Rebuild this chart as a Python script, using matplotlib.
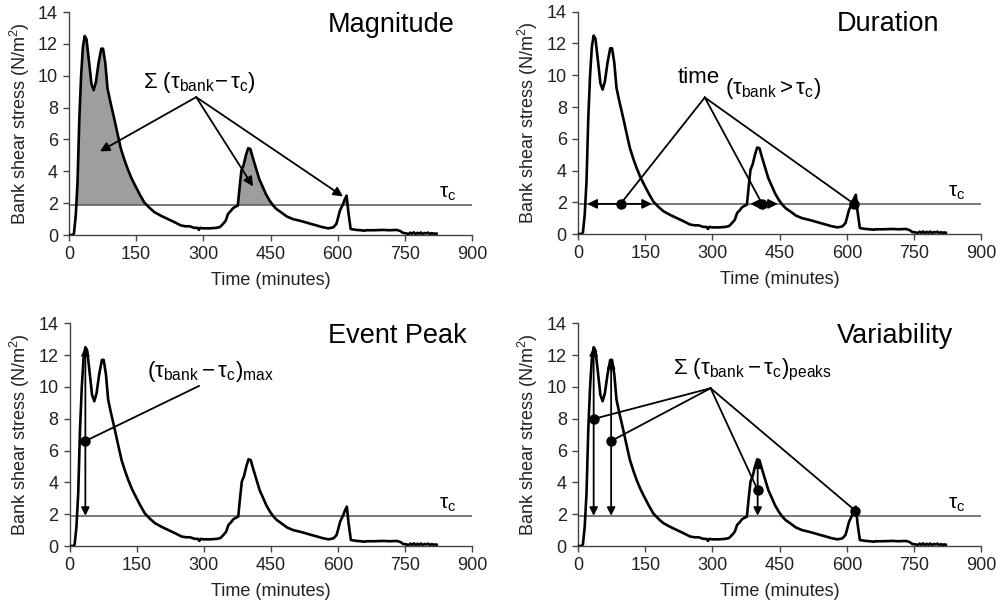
import numpy as np
import matplotlib
matplotlib.use("Agg")
import matplotlib.pyplot as plt

plt.rcParams["font.family"] = ["Liberation Sans", "DejaVu Sans"]
plt.rcParams["mathtext.fontset"] = "custom"
plt.rcParams["mathtext.rm"] = "Liberation Sans"
plt.rcParams["mathtext.it"] = "Liberation Sans"
plt.rcParams["mathtext.bf"] = "Liberation Sans:bold"

# hydrograph (minutes, N/m2)
time_min = [0, 8, 11, 15, 19, 23, 27, 31, 35, 39, 45, 50, 55, 60, 66, 72, 76,
            81, 86, 92, 101, 108, 116, 124, 131, 139, 146, 157, 168, 180, 191,
            206, 221, 236, 250, 260, 269, 280, 287, 290, 293, 300, 315, 329,
            337, 344, 350, 355, 361, 366, 372, 377, 381, 385, 390, 395, 400,
            405, 410, 418, 425, 433, 440, 448, 456, 463, 475, 486, 500, 515,
            523, 540, 553, 565, 579, 590, 597, 601, 605, 612, 616, 620, 624,
            629, 635, 642, 651, 661, 663, 680, 702, 716, 732, 740, 746, 754,
            758, 762, 766, 770, 774, 778, 782, 786, 790, 794, 798, 802, 806,
            810, 814, 818, 821]
stress = [0, 0, 0.1, 1.2, 3.3, 7.3, 10.0, 11.8, 12.5, 12.3, 10.8, 9.5, 9.1,
          9.6, 10.8, 11.7, 11.7, 10.8, 9.2, 8.4, 7.3, 6.4, 5.4, 4.7, 4.15,
          3.6, 3.2, 2.6, 2.05, 1.7, 1.43, 1.2, 1.0, 0.8, 0.6, 0.55, 0.55,
          0.45, 0.45, 0.32, 0.45, 0.42, 0.42, 0.45, 0.5, 0.7, 0.9, 1.32, 1.5,
          1.68, 1.78, 1.85, 3.0, 4.05, 4.4, 5.0, 5.45, 5.4, 4.9, 4.15, 3.5,
          3.0, 2.55, 2.16, 1.85, 1.64, 1.4, 1.17, 1.0, 0.9, 0.84, 0.7, 0.6,
          0.5, 0.42, 0.48, 0.69, 1.1, 1.53, 1.95, 2.25, 2.47, 1.4, 0.38, 0.35,
          0.32, 0.3, 0.27, 0.3, 0.3, 0.32, 0.3, 0.32, 0.25, 0.13, 0.1, 0.05,
          0.15, 0.07, 0.17, 0.06, 0.14, 0.08, 0.16, 0.05, 0.13, 0.1, 0.15,
          0.06, 0.12, 0.08, 0.1, 0.08]
tau_c = 1.9
peak_times = [35, 74, 401, 619]

x_ticks = [0, 150, 300, 450, 600, 750, 900]
y_ticks = [0, 2, 4, 6, 8, 10, 12, 14]
panel_titles = ["Magnitude", "Duration", "Event Peak", "Variability"]

t = np.array(time_min, dtype=float)
s = np.array(stress, dtype=float)
peak_vals = np.interp(peak_times, t, s)

fig = plt.figure(figsize=(9.96, 6.04), dpi=100)
positions = [
    [0.0693, 0.6109, 0.4046, 0.3691],
    [0.5803, 0.6125, 0.4049, 0.3681],
    [0.0700, 0.0960, 0.4039, 0.3687],
    [0.5803, 0.0960, 0.4049, 0.3687],
]
axes = [fig.add_axes(p) for p in positions]

LABEL_FS = 16
dot = dict(marker="o", color="k", markersize=6.5, zorder=5, linestyle="none")

for ax, title in zip(axes, panel_titles):
    ax.plot(t, s, color="k", lw=1.9, zorder=3)
    ax.axhline(tau_c, color="#555555", lw=1.1, zorder=2)
    ax.set_xlim(0, 900)
    ax.set_ylim(0, 14)
    ax.set_xticks(x_ticks)
    ax.set_yticks(y_ticks)
    ax.spines["top"].set_visible(False)
    ax.spines["right"].set_visible(False)
    for sp in ["left", "bottom"]:
        ax.spines[sp].set_color("#444444")
        ax.spines[sp].set_linewidth(1.0)
    ax.tick_params(direction="out", length=4, width=1.0, color="#444444",
                   labelsize=13, labelcolor="#222222", pad=4)
    ax.set_xlabel("Time (minutes)", fontsize=13, color="#222222")
    ax.set_ylabel("Bank shear stress (N/m$^2$)", fontsize=13, color="#222222")
    ax.xaxis.set_label_coords(0.5, -0.165)
    ax.yaxis.set_label_coords(-0.093, 0.5)
    ax.text(577, 13.2, title, fontsize=19.5, va="center", ha="left")
    ax.text(846, 2.6, r"$\tau_{\mathrm{c}}$", fontsize=15, va="center", ha="center")

# Magnitude
ax = axes[0]
ax.fill_between(t, s, tau_c, where=s > tau_c, interpolate=True,
                color="#9e9e9e", lw=0, zorder=1)
ax.text(165, 9.6, r"$\Sigma\ (\tau_{\mathrm{bank}}\!-\tau_{\mathrm{c}})$",
        fontsize=LABEL_FS, va="center", ha="left")
apex = (284, 8.66)
for target in [(69, 5.25), (411, 3.05), (612, 2.42)]:
    ax.annotate("", xy=target, xytext=apex,
                arrowprops=dict(arrowstyle="-|>", color="k", lw=1.3,
                                mutation_scale=14, shrinkA=0, shrinkB=0))

# Duration
ax = axes[1]
ax.text(223, 9.49, "time", fontsize=LABEL_FS, va="baseline", ha="left")
ax.text(327, 9.17, r"$(\tau_{\mathrm{bank}} > \tau_{\mathrm{c}})$",
        fontsize=LABEL_FS, va="center", ha="left")
apex = (283, 8.6)
spans = [(20.8, 165), (384.6, 446)]
dot_x = [95, 411, 616]
for a, b in spans:
    ax.annotate("", xy=(b, tau_c), xytext=(a, tau_c),
                arrowprops=dict(arrowstyle="<|-|>", color="k", lw=1.3,
                                mutation_scale=14, shrinkA=0, shrinkB=0),
                zorder=4)
for dx in dot_x:
    ax.plot([apex[0], dx], [apex[1], tau_c], color="k", lw=1.3, zorder=4)
ax.plot(dot_x, [tau_c] * len(dot_x), **dot)

# Event Peak
ax = axes[2]
pk = int(np.argmax(s))
ax.annotate("", xy=(t[pk], s[pk]), xytext=(t[pk], tau_c),
            arrowprops=dict(arrowstyle="<|-|>", color="k", lw=1.3,
                            mutation_scale=12, shrinkA=0, shrinkB=0), zorder=4)
ax.plot([t[pk], 289], [6.6, 10.06], color="k", lw=1.3, zorder=4)
ax.plot([t[pk]], [6.6], **dot)
ax.text(172, 10.96, r"$(\tau_{\mathrm{bank}}-\tau_{\mathrm{c}})_{\mathrm{max}}$",
        fontsize=LABEL_FS, va="center", ha="left")

# Variability
ax = axes[3]
for pt, pv in zip(peak_times[:3], peak_vals[:3]):
    ax.annotate("", xy=(pt, pv), xytext=(pt, tau_c),
                arrowprops=dict(arrowstyle="<|-|>", color="k", lw=1.3,
                                mutation_scale=12, shrinkA=0, shrinkB=0),
                zorder=4)
apex = (296, 9.92)
var_dots_y = [7.99, 6.6, 3.52, 2.22]
for pt, dy in zip(peak_times, var_dots_y):
    ax.plot([apex[0], pt], [apex[1], dy], color="k", lw=1.3, zorder=4)
ax.plot(peak_times, var_dots_y, **dot)
ax.text(212, 11.07,
        r"$\Sigma\ (\tau_{\mathrm{bank}}-\tau_{\mathrm{c}})_{\mathrm{peaks}}$",
        fontsize=LABEL_FS, va="center", ha="left")

fig.savefig("out.png", dpi=100)
